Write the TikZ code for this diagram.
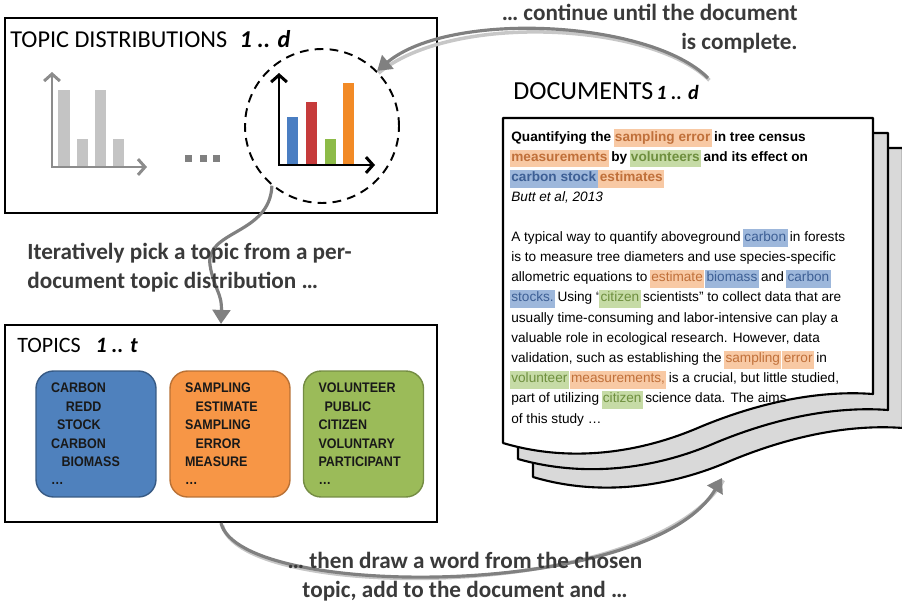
\documentclass[tikz,border=0pt]{standalone}
\usepackage{fontspec}
\setmainfont{Carlito}
\newfontfamily\arialfont{Liberation Sans}
\newfontfamily\narrowfont[FakeStretch=0.9]{Liberation Sans}
\usetikzlibrary{arrows.meta,positioning}

\definecolor{flowgray}{HTML}{808080}
\definecolor{notegray}{HTML}{3A3A3A}
\definecolor{pagegray}{HTML}{D9D9D9}
\definecolor{axisgray}{HTML}{8C8C8C}
\definecolor{bargray}{HTML}{C4C4C4}
\definecolor{barblue}{HTML}{4A7EC2}
\definecolor{barred}{HTML}{C63B3B}
\definecolor{bargreen}{HTML}{8DBB48}
\definecolor{barorange}{HTML}{F28A26}
\definecolor{hlorange}{HTML}{F8C9A4}
\definecolor{hlgreen}{HTML}{C6DBA6}
\definecolor{hlblue}{HTML}{9DB7DB}
\definecolor{txorange}{HTML}{C0703A}
\definecolor{txgreen}{HTML}{6E8F3E}
\definecolor{txblue}{HTML}{3D5F95}
\definecolor{topicblue}{HTML}{4F81BD}
\definecolor{topicorange}{HTML}{F79646}
\definecolor{topicgreen}{HTML}{9BBB59}

\newcommand\hlo[1]{{\fboxsep=0.8pt\kern-0.8pt\colorbox{hlorange}{\rule[-2.6pt]{0pt}{8.6pt}\textcolor{txorange}{#1}}\kern-0.8pt}}
\newcommand\hlg[1]{{\fboxsep=0.8pt\kern-0.8pt\colorbox{hlgreen}{\rule[-2.6pt]{0pt}{8.6pt}\textcolor{txgreen}{#1}}\kern-0.8pt}}
\newcommand\hlb[1]{{\fboxsep=0.8pt\kern-0.8pt\colorbox{hlblue}{\rule[-2.6pt]{0pt}{8.6pt}\textcolor{txblue}{#1}}\kern-0.8pt}}

\tikzset{
  frame/.style={draw=black, line width=1.2pt, minimum width=8.64cm, minimum height=3.9cm},
  flow/.style={draw=flowgray, line width=1.8pt, -{Triangle[length=8pt,width=10pt]}},
  flowshadow/.style={draw=black!22, line width=2pt, transform canvas={xshift=0.8pt,yshift=-1.3pt}},
  note/.style={font=\fontsize{13.2}{16.5}\selectfont\bfseries, text=notegray, inner sep=0pt},
  heading/.style={anchor=west, inner sep=0pt},
  doctext/.style={font=\arialfont\fontsize{7.75}{11.5}\selectfont, align=left, inner sep=0pt},
  topicbox/.style={rounded corners=10pt, line width=0.8pt, minimum width=2.4cm, minimum height=2.52cm,
    text width=1.8cm, inner xsep=0.3cm, align=left, text=black!90,
    font=\narrowfont\bfseries\fontsize{7.9}{10.5}\selectfont},
  page/.style={draw=black, line width=1.2pt, line join=round}
}

\begin{document}
\begin{tikzpicture}[x=0.02cm,y=-0.02cm]
\useasboundingbox (0,0) rectangle (902,602);

%%%%% Topic distributions
\node (distbox) [frame] at (221,115.5) {};
\node (disttitle) [heading, font=\fontsize{13.8}{15}\selectfont] at (10,39) {TOPIC DISTRIBUTIONS\hspace{0.25cm}\textbf{\textit{1 .. d}}};

\fill[bargray] (58,90) rectangle (70,167); \fill[bargray] (77,139) rectangle (88,167); \fill[bargray] (95,90) rectangle (106,167); \fill[bargray] (113,139) rectangle (124,167);
\draw[axisgray, line width=1.7pt, {Straight Barb[length=4pt,width=9pt]}-{Straight Barb[length=4pt,width=9pt]}] (52,72) -- (52,167) -- (147,167);

\fill[flowgray] (185,155) rectangle (192,162); \fill[flowgray] (200,155) rectangle (207,162); \fill[flowgray] (213,155) rectangle (220,162);

\node (pick) [draw=black, dashed, dash pattern=on 5pt off 3.5pt, line width=1.1pt, circle, minimum size=3.08cm] at (322,126) {};
\fill[barblue] (287,117) rectangle (298,165); \fill[barred] (306,102) rectangle (317,165); \fill[bargreen] (325,139) rectangle (336,165); \fill[barorange] (343,83) rectangle (354,165);
\draw[black, line width=1.7pt, {Straight Barb[length=4pt,width=9pt]}-{Straight Barb[length=4pt,width=9pt]}] (279,73) -- (279,165) -- (375,165);

%%%%% Documents
\node (doctitle) [heading, font=\fontsize{14.8}{17}\selectfont] at (513,91) {DOCUMENTS\hspace{0.06cm}{\fontsize{11.5}{14}\selectfont\textbf{\textit{1 .. d}}}};

\draw[page, fill=pagegray] (533,148) -- (903,148) -- (903,428) .. controls (850,424) and (790,436) .. (730,461) .. controls (670,487) and (600,497) .. (533,477) -- cycle;
\draw[page, fill=pagegray] (518,133) -- (888,133) -- (888,410) .. controls (835,406) and (775,418) .. (715,443) .. controls (655,469) and (585,478) .. (518,459) -- cycle;
\draw[page, fill=white] (503,118) -- (873,118) -- (873,394) .. controls (820,390) and (760,402) .. (700,427) .. controls (640,453) and (570,463) .. (503,443) -- cycle;

\node (paper) [doctext, anchor=north west] at (511,129) {%
\textbf{Quantifying the \hlo{sampling error} in tree census}\\
\textbf{\hlo{measurements} by \hlg{volunteers} and its effect on}\\
\textbf{\hlb{carbon stock} \hlo{estimates}}\\
\textit{Butt et al, 2013}};

\node (abstract) [doctext, anchor=north west] at (511,229) {%
A typical way to quantify aboveground \hlb{carbon} in forests\\
is to measure tree diameters and use species-specific\\
allometric equations to \hlo{estimate} \hlb{biomass} and \hlb{carbon}\\
\hlb{stocks.} Using “\hlg{citizen} scientists” to collect data that are\\
usually time-consuming and labor-intensive can play a\\
valuable role in ecological research. However, data\\
validation, such as establishing the \hlo{sampling} \hlo{error} in\\
\hlg{volunteer} \hlo{measurements,} is a crucial, but little studied,\\
part of utilizing \hlg{citizen} science data. The aims\\
of this study \dots};

\coordinate (docout) at (708,78);
\coordinate (docin) at (722,478);

%%%%% Topics
\node (topicsbox) [frame, minimum height=3.94cm] at (221,423.5) {};
\node (topicstitle) [heading, font=\fontsize{12.5}{14}\selectfont] at (17,345) {TOPICS\hspace{0.3cm}\textbf{\textit{1 .. t}}};

\node (carbon) [topicbox, draw=topicblue!70!black, fill=topicblue] at (96,434) {CARBON\\ \hspace*{8.5pt}REDD\\ \hspace*{3.5pt}STOCK\\ CARBON\\ \hspace*{6pt}BIOMASS\\ \dots};
\node (sampling) [topicbox, draw=topicorange!75!black, fill=topicorange] at (230,434) {SAMPLING\\ \hspace*{6pt}ESTIMATE\\ SAMPLING\\ \hspace*{6pt}ERROR\\ MEASURE\\ \dots};
\node (volunteer) [topicbox, draw=topicgreen!75!black, fill=topicgreen] at (363.5,434) {VOLUNTEER\\ \hspace*{3.5pt}PUBLIC\\ CITIZEN\\ VOLUNTARY\\ PARTICIPANT\\ \dots};

%%%%% Flow of the process
\draw[flowshadow] (docout) .. controls (650,20) and (450,10) .. (pick.45);
\draw[flowshadow] (topicsbox.south) .. controls (240,600) and (650,600) .. (docin);
\draw[flow] (docout) .. controls (650,20) and (450,10) .. (pick.45);
\draw[flow] (pick.-130) .. controls (270,235) and (205,230) .. (210,265) .. controls (214,290) and (222,292) .. (topicsbox.north);
\draw[flow] (topicsbox.south) .. controls (240,600) and (650,600) .. (docin);

\node (again) [note, anchor=north east, align=right] at (798,4) {\dots\ continue until the document\\ is complete.};
\node (iterate) [note, anchor=west, align=left] at (27,268) {Iteratively pick a topic from a per-\\ document topic distribution \dots};
\node (draw) [note, align=center] at (465,577) {\dots\ then draw a word from the chosen\\ topic, add to the document and \dots};

\end{tikzpicture}
\end{document}
